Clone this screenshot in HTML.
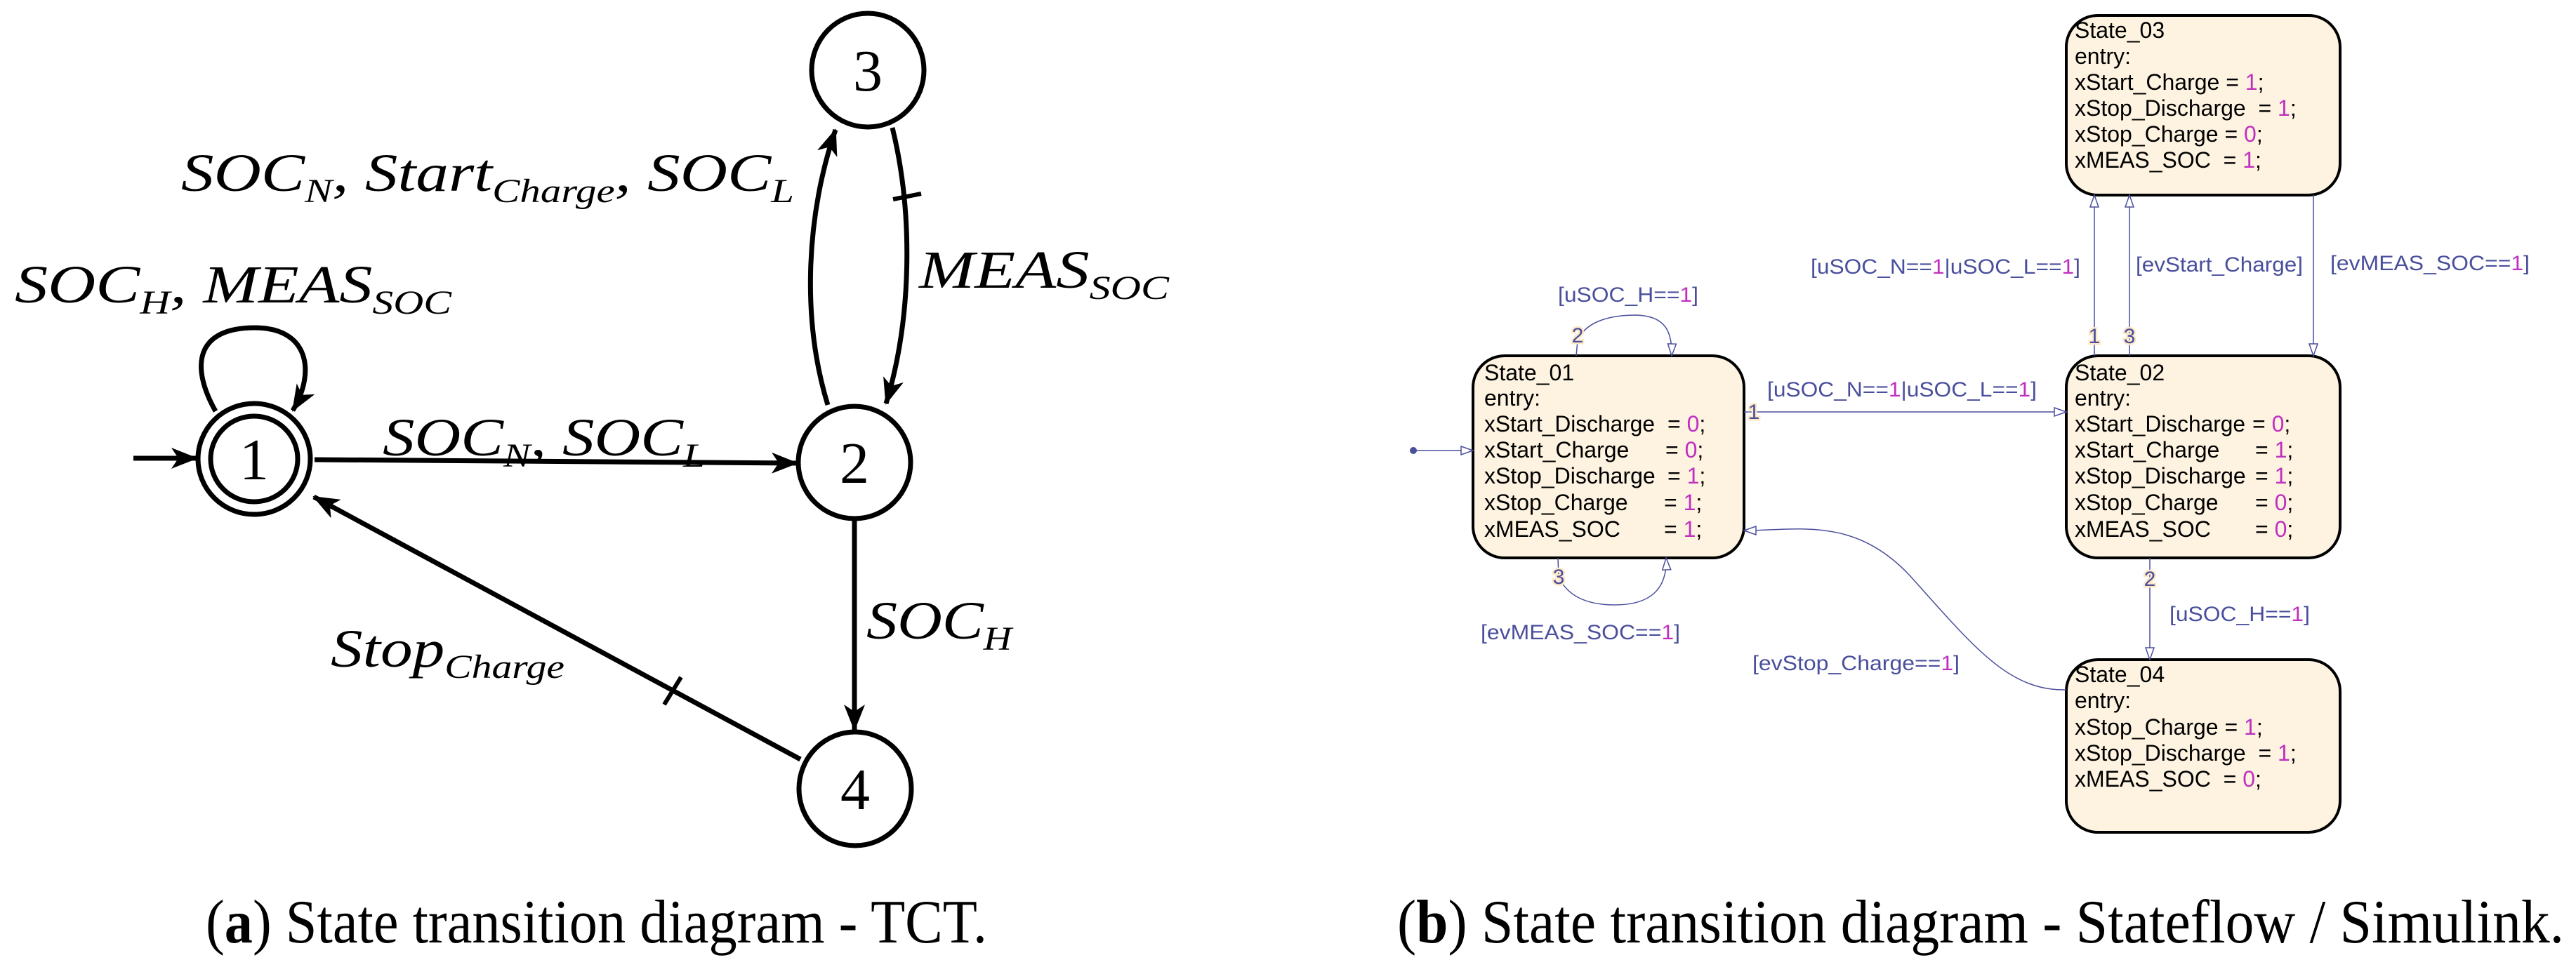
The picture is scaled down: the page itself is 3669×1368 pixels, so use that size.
<!DOCTYPE html>
<html><head><meta charset="utf-8"><style>
html,body{margin:0;padding:0;background:#fff;}
svg{display:block;}
.m{font-family:"Liberation Serif",serif;font-style:italic;font-size:76px;fill:#000;}
.n{font-family:"Liberation Serif",serif;font-size:84px;fill:#000;}
.cap{font-family:"Liberation Serif",serif;font-size:88px;fill:#000;}
.sf{font-family:"Liberation Sans",sans-serif;font-size:32px;fill:#000;}
.bl{font-family:"Liberation Sans",sans-serif;font-size:30px;fill:#4a4f9c;}
.mg{fill:#c030c0;}
.dg{font-family:"Liberation Sans",sans-serif;font-size:30px;fill:#4a4f9c;stroke:#fde8c8;stroke-width:5px;paint-order:stroke;}
</style></head><body>
<svg width="3669" height="1368" viewBox="0 0 3669 1368" xmlns="http://www.w3.org/2000/svg">
<defs>
<marker id="ah" markerWidth="40" markerHeight="30" refX="36" refY="15" orient="auto" markerUnits="userSpaceOnUse">
<path d="M0,0 L38,15 L0,30 L10,15 Z" fill="#000"/>
</marker>
<marker id="oa" markerWidth="20" markerHeight="14" refX="18" refY="7" orient="auto" markerUnits="userSpaceOnUse">
<path d="M1,1 L18,7 L1,13 Z" fill="#fff" stroke="#4a4f9c" stroke-width="1.5"/>
</marker>
</defs>

<g fill="none" stroke="#000" stroke-width="7">
<ellipse cx="362" cy="654" rx="80" ry="79"/>
<ellipse cx="362" cy="654" rx="62" ry="61"/>
<ellipse cx="1217" cy="659" rx="80" ry="80"/>
<ellipse cx="1236" cy="100" rx="80" ry="81"/>
<ellipse cx="1218" cy="1124" rx="80" ry="81"/>
</g>
<text class="n" x="362" y="683" text-anchor="middle">1</text>
<text class="n" x="1217" y="688" text-anchor="middle">2</text>
<text class="n" x="1236" y="129" text-anchor="middle">3</text>
<text class="n" x="1218" y="1153" text-anchor="middle">4</text>

<g fill="none" stroke="#000" stroke-width="7" marker-end="url(#ah)">
<path d="M190,653 L280,653"/>
<path d="M448,655 L1135,660"/>
<path d="M307,586 C270,520 280,467 363,467 C440,467 450,530 417,585"/>
<path d="M1179,577 C1140,450 1150,300 1190,185"/>
<path d="M1271,182 C1300,300 1300,450 1262,575"/>
<path d="M1217,741 L1217,1040"/>
<path d="M1140,1082 L447,708"/>
</g>
<g stroke="#000" stroke-width="6">
<line x1="1272" y1="284" x2="1312" y2="276"/>
<line x1="970" y1="965" x2="946" y2="1004"/>
</g>

<text class="m" x="21" y="431" textLength="622" lengthAdjust="spacingAndGlyphs">SOC<tspan dy="16" font-size="48">H</tspan><tspan dy="-16">, MEAS</tspan><tspan dy="16" font-size="48">SOC</tspan></text>
<text class="m" x="258" y="272" textLength="873" lengthAdjust="spacingAndGlyphs">SOC<tspan dy="16" font-size="48">N</tspan><tspan dy="-16">, Start</tspan><tspan dy="16" font-size="48">Charge</tspan><tspan dy="-16">, SOC</tspan><tspan dy="16" font-size="48">L</tspan></text>
<text class="m" x="1309" y="410" textLength="356" lengthAdjust="spacingAndGlyphs">MEAS<tspan dy="16" font-size="48">SOC</tspan></text>
<text class="m" x="545" y="649" textLength="460" lengthAdjust="spacingAndGlyphs">SOC<tspan dy="16" font-size="48">N</tspan><tspan dy="-16">, SOC</tspan><tspan dy="16" font-size="48">L</tspan></text>
<text class="m" x="1234" y="910" textLength="207" lengthAdjust="spacingAndGlyphs">SOC<tspan dy="16" font-size="48">H</tspan></text>
<text class="m" x="471" y="950" textLength="333" lengthAdjust="spacingAndGlyphs">Stop<tspan dy="16" font-size="48">Charge</tspan></text>

<text class="cap" x="293" y="1343" textLength="1113" lengthAdjust="spacingAndGlyphs">(<tspan font-weight="bold">a</tspan>) State transition diagram - TCT.</text>

<g fill="#fdf3e0" stroke="#000" stroke-width="4">
<rect x="2098" y="507" width="386" height="288" rx="45"/>
<rect x="2943" y="507" width="390" height="288" rx="45"/>
<rect x="2943" y="22" width="390" height="256" rx="45"/>
<rect x="2943" y="940" width="390" height="246" rx="45"/>
</g>

<g fill="none" stroke="#4a4f9c" stroke-width="1.5">
<path d="M2484,587 L2943,587" marker-end="url(#oa)"/>
<path d="M2013,642 L2098,642" marker-end="url(#oa)"/>
<path d="M2245,507 L2247,485 C2260,455 2300,449 2330,449 C2370,450 2382,470 2381,507" marker-end="url(#oa)"/>
<path d="M2219,795 L2220,822 C2235,855 2270,862 2300,862 C2350,862 2375,840 2373,795" marker-end="url(#oa)"/>
<path d="M2983,507 L2983,278" marker-end="url(#oa)"/>
<path d="M3033,507 L3033,278" marker-end="url(#oa)"/>
<path d="M3295,278 L3295,507" marker-end="url(#oa)"/>
<path d="M3062,795 L3062,940" marker-end="url(#oa)"/>
<path d="M2943,983 C2860,985 2810,920 2720,820 C2640,735 2560,756 2484,756" marker-end="url(#oa)"/>
</g>
<circle cx="2013" cy="642" r="5" fill="#4a4f9c"/>

<text class="dg" x="2498" y="597" text-anchor="middle">1</text>
<text class="dg" x="2247" y="488" text-anchor="middle">2</text>
<text class="dg" x="2220" y="832" text-anchor="middle">3</text>
<text class="dg" x="2983" y="489" text-anchor="middle">1</text>
<text class="dg" x="3033" y="489" text-anchor="middle">3</text>
<text class="dg" x="3062" y="835" text-anchor="middle">2</text>

<text class="bl" x="2517" y="565" textLength="384" lengthAdjust="spacingAndGlyphs">[uSOC_N==<tspan class="mg">1</tspan>|uSOC_L==<tspan class="mg">1</tspan>]</text>
<text class="bl" x="2219" y="430" textLength="200" lengthAdjust="spacingAndGlyphs">[uSOC_H==<tspan class="mg">1</tspan>]</text>
<text class="bl" x="2109" y="911" textLength="284" lengthAdjust="spacingAndGlyphs">[evMEAS_SOC==<tspan class="mg">1</tspan>]</text>
<text class="bl" x="2579" y="390" textLength="384" lengthAdjust="spacingAndGlyphs">[uSOC_N==<tspan class="mg">1</tspan>|uSOC_L==<tspan class="mg">1</tspan>]</text>
<text class="bl" x="3042" y="387" textLength="238" lengthAdjust="spacingAndGlyphs">[evStart_Charge]</text>
<text class="bl" x="3319" y="385" textLength="284" lengthAdjust="spacingAndGlyphs">[evMEAS_SOC==<tspan class="mg">1</tspan>]</text>
<text class="bl" x="3090" y="885" textLength="200" lengthAdjust="spacingAndGlyphs">[uSOC_H==<tspan class="mg">1</tspan>]</text>
<text class="bl" x="2496" y="955" textLength="295" lengthAdjust="spacingAndGlyphs">[evStop_Charge==<tspan class="mg">1</tspan>]</text>

<text class="sf" x="2114" y="542">State_01</text>
<text class="sf" x="2114" y="578">entry:</text>
<text class="sf" x="2114" y="615" textLength="243" lengthAdjust="spacingAndGlyphs">xStart_Discharge</text>
<text class="sf" x="2114" y="652">xStart_Charge</text>
<text class="sf" x="2114" y="689">xStop_Discharge</text>
<text class="sf" x="2114" y="727">xStop_Charge</text>
<text class="sf" x="2114" y="765">xMEAS_SOC</text>
<text class="sf" x="2375" y="615">= <tspan class="mg">0</tspan>;</text>
<text class="sf" x="2372" y="652">= <tspan class="mg">0</tspan>;</text>
<text class="sf" x="2375" y="689">= <tspan class="mg">1</tspan>;</text>
<text class="sf" x="2370" y="727">= <tspan class="mg">1</tspan>;</text>
<text class="sf" x="2370" y="765">= <tspan class="mg">1</tspan>;</text>

<text class="sf" x="2955" y="542">State_02</text>
<text class="sf" x="2955" y="578">entry:</text>
<text class="sf" x="2955" y="615" textLength="243" lengthAdjust="spacingAndGlyphs">xStart_Discharge</text>
<text class="sf" x="2955" y="652">xStart_Charge</text>
<text class="sf" x="2955" y="689">xStop_Discharge</text>
<text class="sf" x="2955" y="727">xStop_Charge</text>
<text class="sf" x="2955" y="765">xMEAS_SOC</text>
<text class="sf" x="3208" y="615">= <tspan class="mg">0</tspan>;</text>
<text class="sf" x="3212" y="652">= <tspan class="mg">1</tspan>;</text>
<text class="sf" x="3212" y="689">= <tspan class="mg">1</tspan>;</text>
<text class="sf" x="3212" y="727">= <tspan class="mg">0</tspan>;</text>
<text class="sf" x="3212" y="765">= <tspan class="mg">0</tspan>;</text>

<text class="sf" x="2955" y="54">State_03</text>
<text class="sf" x="2955" y="91">entry:</text>
<text class="sf" x="2955" y="128" xml:space="preserve">xStart_Charge = <tspan class="mg">1</tspan>;</text>
<text class="sf" x="2955" y="165" xml:space="preserve">xStop_Discharge  = <tspan class="mg">1</tspan>;</text>
<text class="sf" x="2955" y="202" xml:space="preserve">xStop_Charge = <tspan class="mg">0</tspan>;</text>
<text class="sf" x="2955" y="239" xml:space="preserve">xMEAS_SOC  = <tspan class="mg">1</tspan>;</text>

<text class="sf" x="2955" y="972">State_04</text>
<text class="sf" x="2955" y="1009">entry:</text>
<text class="sf" x="2955" y="1047" xml:space="preserve">xStop_Charge = <tspan class="mg">1</tspan>;</text>
<text class="sf" x="2955" y="1084" xml:space="preserve">xStop_Discharge  = <tspan class="mg">1</tspan>;</text>
<text class="sf" x="2955" y="1121" xml:space="preserve">xMEAS_SOC  = <tspan class="mg">0</tspan>;</text>

<text class="cap" x="1990" y="1343" textLength="1662" lengthAdjust="spacingAndGlyphs">(<tspan font-weight="bold">b</tspan>) State transition diagram - Stateflow / Simulink.</text>
</svg>
</body></html>
